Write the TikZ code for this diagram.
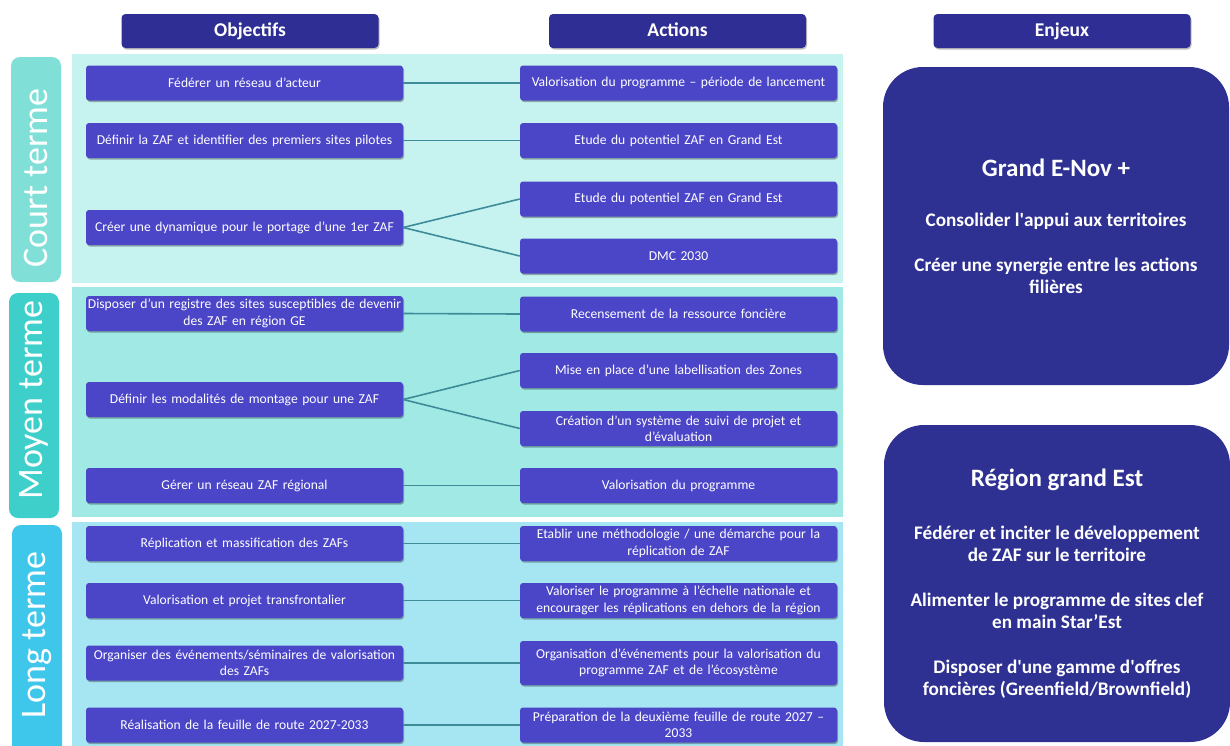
\documentclass[tikz,border=0pt]{standalone}
\usepackage{fontspec}
\setmainfont{Carlito}
\usetikzlibrary{shadows}
\definecolor{boxblue}{HTML}{4B45C8}
\definecolor{hdrblue}{HTML}{2F2E94}
\definecolor{enjblue}{HTML}{2E3192}
\definecolor{courtpanel}{HTML}{C6F3EF}
\definecolor{courtpill}{HTML}{80E0D8}
\definecolor{moyenpanel}{HTML}{A0E9E4}
\definecolor{moyenpill}{HTML}{3ECFCB}
\definecolor{longpanel}{HTML}{A6E5F2}
\definecolor{longpill}{HTML}{3EC7EA}
\definecolor{linkcol}{HTML}{3E8C9A}
\begin{document}
\begin{tikzpicture}[x=1pt,y=-1pt,
  item/.style={fill=boxblue, rounded corners=3pt, minimum width=317pt, minimum height=35pt,
    text=white, align=center, inner xsep=1pt, inner ysep=1pt, text width=315pt,
    font=\fontsize{13.6}{16.5}\selectfont,
    drop shadow={shadow xshift=1pt,shadow yshift=-1.5pt,opacity=0.3,fill=black}},
  hdr/.style={fill=hdrblue, rounded corners=4pt, minimum width=257pt, minimum height=34pt,
    text=white, font=\fontsize{19.5}{21}\selectfont\bfseries, text height=13pt, text depth=3pt,
    drop shadow={shadow xshift=1pt,shadow yshift=-1.5pt,opacity=0.25,fill=black}},
  pill/.style={rounded corners=9pt, minimum width=50pt, minimum height=225pt, inner sep=0pt},
  pilltext/.style={text=white, rotate=90, font=\fontsize{36}{38}\selectfont},
  panel/.style={inner sep=0pt, minimum width=771pt},
  enj/.style={fill=enjblue, rounded corners=40pt, minimum width=346pt, minimum height=318pt,
    text=white, align=center, font=\fontsize{19.2}{22}\selectfont\bfseries},
  link/.style={draw=linkcol, line width=1.6pt}
]
\useasboundingbox (0,0) rectangle (1230,745);
\fill[white] (0,0) rectangle (1230,745);

% panels
\node[panel, fill=courtpanel, minimum height=229pt] (pcourt) at (457.5,168.5) {};
\node[panel, fill=moyenpanel, minimum height=230pt] (pmoyen) at (457.5,402) {};
\node[panel, fill=longpanel, minimum height=226pt] (plong) at (457.5,635) {};

% pills
\node[pill, fill=courtpill] (lcourt) at (36,169.5) {};
\node[pill, fill=moyenpill] (lmoyen) at (34,405.5) {};
\node[pill, fill=longpill, minimum height=230pt] (llong) at (37,640) {};
\node[pilltext] (tcourt) at (36,178) {Court terme};
\node[pilltext] (tmoyen) at (34,400) {Moyen terme};
\node[pilltext] (tlong) at (37,635) {Long terme};

% headers
\node[hdr] (hobj) at (250,31) {Objectifs};
\node[hdr] (hact) at (677.5,31) {Actions};
\node[hdr] (henj) at (1062,31) {Enjeux};

% objectifs
\node[item] (o1) at (244.5,83) {Fédérer un réseau d’acteur};
\node[item] (o2) at (244.5,140.5) {Définir la ZAF et identifier des premiers sites pilotes};
\node[item] (o3) at (244.5,227.5) {Créer une dynamique pour le portage d’une 1er ZAF};
\node[item] (o4) at (244.5,313.5) {Disposer d’un registre des sites susceptibles de devenir\\des ZAF en région GE};
\node[item] (o5) at (244.5,399.5) {Définir les modalités de montage pour une ZAF};
\node[item] (o6) at (244.5,485.5) {Gérer un réseau ZAF régional};
\node[item] (o7) at (244.5,543.5) {Réplication et massification des ZAFs};
\node[item] (o8) at (244.5,600.5) {Valorisation et projet transfrontalier};
\node[item] (o9) at (244.5,663) {Organiser des événements/séminaires de valorisation\\des ZAFs};
\node[item] (o10) at (244.5,725) {Réalisation de la feuille de route 2027-2033};

% actions
\node[item] (a1) at (678.5,83) {Valorisation du programme – période de lancement};
\node[item] (a2) at (678.5,140.5) {Etude du potentiel ZAF en Grand Est};
\node[item] (a3) at (678.5,199) {Etude du potentiel ZAF en Grand Est};
\node[item] (a4) at (678.5,256) {DMC 2030};
\node[item] (a5) at (678.5,314) {Recensement de la ressource foncière};
\node[item] (a6) at (678.5,370.5) {Mise en place d’une labellisation des Zones};
\node[item] (a7) at (678.5,428.5) {Création d’un système de suivi de projet et\\d’évaluation};
\node[item] (a8) at (678.5,485.5) {Valorisation du programme};
\node[item] (a9) at (678.5,543.5) {Etablir une méthodologie / une démarche pour la\\réplication de ZAF};
\node[item] (a10) at (678.5,600.5) {Valoriser le programme à l’échelle nationale et\\encourager les réplications en dehors de la région};
\node[item, minimum height=44pt] (a11) at (678.5,663) {Organisation d’événements pour la valorisation du\\programme ZAF et de l’écosystème};
\node[item] (a12) at (678.5,725) {Préparation de la deuxième feuille de route 2027 –\\2033};

% links
\draw[link] (o1.east) -- (a1.west);
\draw[link] (o2.east) -- (a2.west);
\draw[link] (o3.east) -- (a3.west);
\draw[link] (o3.east) -- (a4.west);
\draw[link] (o4.east) -- (a5.west);
\draw[link] (o5.east) -- (a6.west);
\draw[link] (o5.east) -- (a7.west);
\draw[link] (o6.east) -- (a8.west);
\draw[link] (o7.east) -- (a9.west);
\draw[link] (o8.east) -- (a10.west);
\draw[link] (o9.east) -- (a11.west);
\draw[link] (o10.east) -- (a12.west);

% enjeux
\node[enj] (e1) at (1056,226) {{\fontsize{25}{28}\selectfont Grand E-Nov +}\\[28pt]
  Consolider l\textquotesingle appui aux territoires\\[23pt]
  Créer une synergie entre les actions\\filières};
\node[enj, minimum height=317pt] (e2) at (1057,583.5) {{\fontsize{25}{28}\selectfont Région grand Est}\\[31pt]
  Fédérer et inciter le développement\\de ZAF sur le territoire\\[23pt]
  Alimenter le programme de sites clef\\en main Star’Est\\[23pt]
  Disposer d\textquotesingle une gamme d\textquotesingle offres\\foncières (Greenfield/Brownfield)};
\end{tikzpicture}
\end{document}
